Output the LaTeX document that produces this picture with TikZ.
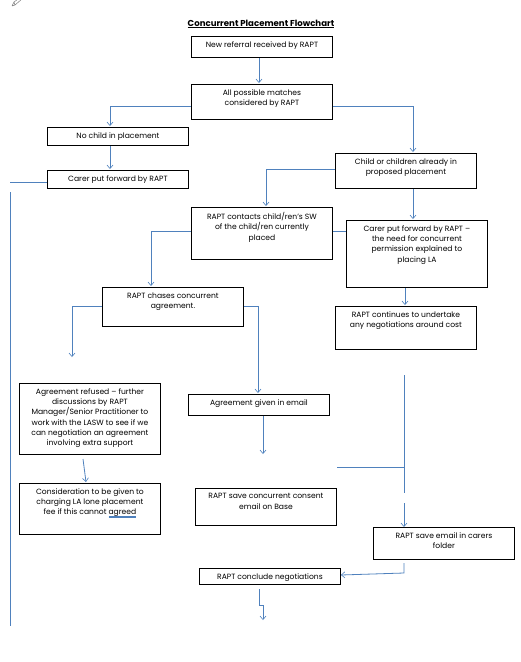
\documentclass[tikz,border=0pt]{standalone}
\usepackage{fontspec}
\setmainfont{Poppins}
\usetikzlibrary{arrows.meta}
\definecolor{conn}{HTML}{4F81BD}
\newcommand{\bx}[3]{\parbox[c][#2pt][t]{#1pt}{\centering\vspace{5pt}#3\par}}
\newcommand{\spellmark}[1]{\setbox0\hbox{#1}\rlap{\textcolor{conn}{\rule[-1.5pt]{\wd0}{0.35pt}\kern-\wd0\rule[-2.6pt]{\wd0}{0.35pt}}}\box0}
\tikzset{
  box/.style={draw=black, line width=0.9pt, inner sep=0pt, anchor=north west, font=\fontsize{7.6}{10.3}\selectfont},
  conn/.style={draw=conn, line width=0.8pt},
  arr/.style={conn, -{Straight Barb[length=3.5pt,width=6pt,line width=0.6pt]}},
}
\begin{document}
\begin{tikzpicture}[x=1pt,y=-1pt]
\useasboundingbox (0,0) rectangle (521,662);
% pencil fragment
\draw[gray, line width=0.5pt] (12,6) -- (14,2) -- (21,-3) (14,2) -- (15,5) -- (22,-1) (12,6) -- (15,5);
% title
\node (title) at (261,24) {\fontsize{8.6}{10}\selectfont\bfseries\underline{Concurrent Placement Flowchart}};
% boxes
\node[box] (b1) at (191,36) {\bx{141}{21}{New referral received by RAPT}};
\node[box] (b2) at (191,84) {\bx{141}{35}{All possible matches\\considered by RAPT}};
\node[box] (b3) at (47,127) {\bx{141}{18}{No child in placement}};
\node[box] (b4) at (47,170) {\bx{141}{18}{Carer put forward by RAPT}};
\node[box] (b5) at (335,153) {\bx{141}{35}{Child or children already in\\proposed placement}};
\node[box] (b6) at (191,207) {\bx{141}{52}{RAPT contacts child/ren's SW\\of the child/ren currently\\placed}};
\node[box] (b7) at (346,220) {\bx{141}{67}{Carer put forward by RAPT –\\the need for concurrent\\permission explained to\\placing LA}};
\node[box] (b8) at (102,287) {\bx{141}{39}{RAPT chases concurrent\\agreement.}};
\node[box] (b9) at (335,306) {\bx{141}{43}{RAPT continues to undertake\\any negotiations around cost}};
\node[box] (b10) at (188,394) {\bx{141}{21}{Agreement given in email}};
\node[box] (b11) at (19,383) {\bx{141}{71}{Agreement refused – further\\discussions by RAPT\\Manager/Senior Practitioner to\\work with the LASW to see if we\\can negotiation an agreement\\involving extra support}};
\node[box] (b12) at (19,483) {\bx{141}{51}{Consideration to be given to\\charging LA lone placement\\fee if this cannot \spellmark{agreed}}};
\node[box] (b13) at (195,488) {\bx{141}{37}{RAPT save concurrent consent\\email on Base}};
\node[box] (b14) at (373,527) {\bx{141}{32}{RAPT save email in carers\\folder}};
\node[box] (b15) at (199,568) {\bx{141}{16}{RAPT conclude negotiations}};
% free-end coordinates
\coordinate (l1) at (10,182);
\coordinate (v1) at (10,192);
\coordinate (v2) at (10,626);
\coordinate (f1) at (72,357);
\coordinate (f2) at (263,454);
\coordinate (r1) at (404,375);
\coordinate (r2) at (404,493);
\coordinate (r3) at (404,503);
\coordinate (h1) at (337,467);
\coordinate (s1) at (404,563);
\coordinate (e1) at (259,589);
\coordinate (e2) at (263,620);
% connectors
\draw[arr] (b1.south -| 259,0) -- (259,83);
\draw[arr] (b2.west |- 0,106) -| (110,126);
\draw[arr] (b3.south -| 110,0) -- (110,169);
\draw[conn] (b4.west |- 0,182) -- (l1);
\draw[conn] (v1) -- (v2);
\draw[arr] (b2.east |- 0,106) -| (413,152);
\draw[arr] (b5.west |- 0,169) -| (266,206);
\draw[arr] (b5.south -| 413,0) -- (413,219);
\draw[conn] (b6.east |- 0,231) -- (b7.west |- 0,231);
\draw[arr] (b6.west |- 0,231) -| (151,286);
\draw[arr] (b7.south -| 405,0) -- (405,305);
\draw[arr] (b8.west |- 0,306) -| (f1);
\draw[arr] (b8.east |- 0,306) -| (258,393);
\draw[arr] (83,459) -- (86,482);
\draw[arr] (b10.south -| 263,0) -- (f2);
\draw[conn] (r1) -- (r2);
\draw[conn] (h1) -- (404,467);
\draw[arr] (r3) -- (b14.north -| 404,0);
\draw[arr] (s1) -- (404,573) -- (b15.east |- 0,575);
\draw[arr] (e1) -- (259,605) -- (263,605) -- (e2);
\end{tikzpicture}
\end{document}
